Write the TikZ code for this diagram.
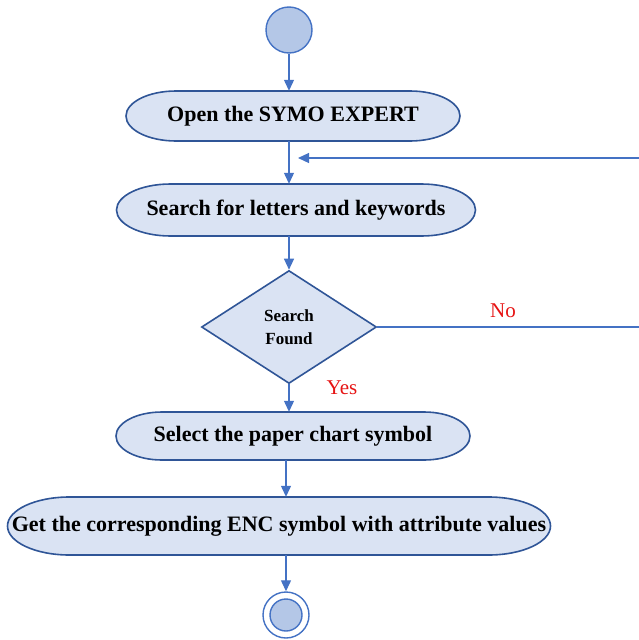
\documentclass[tikz,border=0pt]{standalone}
\usepackage{fontspec}
\setmainfont{Liberation Serif}
\usetikzlibrary{arrows.meta,shapes.geometric}
\definecolor{boxfill}{RGB}{218,227,243}
\definecolor{boxline}{RGB}{47,85,151}
\definecolor{conn}{RGB}{68,114,196}
\definecolor{dotfill}{RGB}{180,199,231}
\definecolor{lblred}{RGB}{230,20,20}
\tikzset{
  stadtext/.style={inner sep=0pt, align=center, font=\fontsize{22}{26}\selectfont\bfseries},
  stadline/.style={draw=boxline, line width=1.6pt, fill=boxfill},
  decision/.style={diamond, draw=boxline, line width=1.6pt, fill=boxfill, inner sep=0pt,
    minimum width=175pt, minimum height=113pt, aspect=1.55, align=center,
    font=\fontsize{17}{23}\selectfont\bfseries},
  startdot/.style={circle, draw=conn, line width=1.4pt, fill=dotfill, minimum size=46pt, inner sep=0pt},
  arr/.style={draw=conn, line width=1.2pt, -{Triangle[length=11pt,width=10pt]}},
  plain/.style={draw=conn, line width=1.2pt},
  lbl/.style={text=lblred, font=\fontsize{21}{24}\selectfont}
}
% #1 name, #2 cx, #3 cy, #4 width, #5 height, #6 end x-radius, #7 text
\newcommand\stadnode[7]{%
  \pgfmathsetmacro\sL{#2-#4/2+#6}\pgfmathsetmacro\sR{#2+#4/2-#6}%
  \pgfmathsetmacro\sT{#3-#5/2}\pgfmathsetmacro\sB{#3+#5/2}\pgfmathsetmacro\sH{#5/2}%
  \path[stadline] (\sL,\sT) -- (\sR,\sT) arc[start angle=90,end angle=-90,x radius=#6pt,y radius=\sH pt]
     -- (\sL,\sB) arc[start angle=270,end angle=90,x radius=#6pt,y radius=\sH pt] -- cycle;
  \node[stadtext, minimum width=#4pt, minimum height=#5pt] (#1) at (#2,#3) {#7};
}
\begin{document}
\begin{tikzpicture}[x=1pt,y=-1pt]
\useasboundingbox (0,0) rectangle (638,640);
\node[startdot] (start) at (289,30) {};
\stadnode{open}{293}{116}{334}{50}{50}{Open the SYMO EXPERT}
\stadnode{search}{296}{210}{359}{52}{54}{Search for letters and keywords}
\node[decision] (dec) at (289,327) {Search\\Found};
\stadnode{select}{293}{436}{354}{48}{46}{Select the paper chart symbol}
\stadnode{get}{279}{526}{543}{58}{62}{Get the corresponding ENC symbol with attribute values}
\node[circle, draw=conn, line width=1.4pt, fill=white, minimum size=46pt, inner sep=0pt] (endo) at (286,615) {};
\node[circle, draw=conn, line width=1.4pt, fill=dotfill, minimum size=32pt, inner sep=0pt] (endi) at (286,615) {};

\coordinate (noend) at (640,327);
\coordinate (loopst) at (640,158);
\coordinate (loopin) at (298,158);

\draw[arr] (start.south) -- (start.south |- open.north);
\draw[arr] (open.south -| start.south) -- (search.north -| start.south);
\draw[arr] (loopst) -- (loopin);
\draw[arr] (search.south -| dec.north) -- (dec.north);
\draw[plain] (dec.east) -- (noend);
\draw[arr] (dec.south) -- (dec.south |- select.north);
\draw[arr] (select.south -| 286,0) -- (get.north -| 286,0);
\draw[arr] (get.south -| endo.north) -- (endo.north);

\node[lbl] (no) at (503,311) {No};
\node[lbl] (yes) at (342,388) {Yes};
\end{tikzpicture}
\end{document}
